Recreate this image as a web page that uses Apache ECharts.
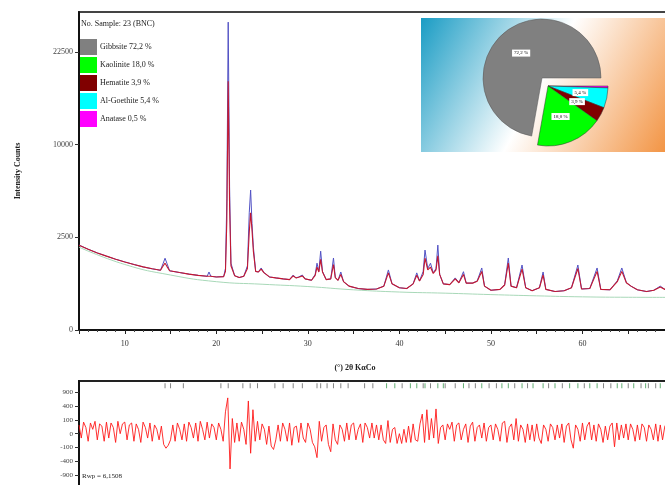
<!DOCTYPE html>
<html><head><meta charset="utf-8">
<script src="https://cdn.jsdelivr.net/npm/echarts@6/dist/echarts.min.js"></script>
<style>html,body{margin:0;padding:0;background:#fff}#c{width:665px;height:485px}</style>
</head><body><div id="c"></div>
<script>
// ---------- DATA ----------
const twoTheta = [5.0,6.0,7.0,8.0,9.0,10.0,11.0,12.0,13.0,13.9,14.2,14.4,14.6,14.9,16.0,17.0,18.0,19.0,19.2,19.4,20.0,20.8,21.0,21.15,21.3,21.45,21.6,22.0,22.5,23.0,23.4,23.6,23.75,23.9,24.05,24.3,24.6,24.9,25.2,25.8,26.5,27.3,28.0,28.4,28.7,29.0,29.4,29.7,30.4,30.8,31.0,31.2,31.4,31.6,32.0,32.5,32.8,33.0,33.3,33.6,33.9,34.5,35.5,36.5,37.5,38.3,38.8,39.2,40.0,40.8,41.5,41.9,42.2,42.6,42.8,43.1,43.4,43.7,44.0,44.2,44.4,44.8,45.5,46.1,46.5,47.0,47.3,48.0,48.5,49.0,49.3,50.0,51.0,51.5,51.9,52.2,52.8,53.4,53.8,54.5,55.3,55.7,56.0,57.0,58.0,58.8,59.5,59.9,60.8,61.6,62.0,63.0,63.8,64.3,64.8,65.3,66.0,67.0,67.8,68.5,69.0,70.0];
const observed = [2100,1900,1730,1590,1460,1350,1250,1160,1090,1040,1300,1500,1300,1020,960,910,870,840,980,840,820,830,1100,5000,27600,6000,1300,860,800,840,1200,4000,5700,3300,2000,1000,980,1120,960,820,790,760,740,880,790,820,880,760,720,900,1300,1000,1810,1000,740,760,1510,800,720,980,680,560,500,480,490,560,1050,620,520,500,620,950,700,1000,1860,1100,1300,950,1100,2100,900,620,600,790,650,990,640,640,700,1120,560,460,480,600,1510,560,520,1230,520,450,520,980,480,430,450,520,1230,490,500,1120,480,470,700,1120,650,560,470,430,460,560,480,470];
const calculated = [2090,1900,1730,1590,1460,1350,1250,1160,1090,1040,1200,1300,1180,1020,960,910,870,840,900,840,820,830,1000,3500,18000,4500,1200,860,800,840,1100,2800,4000,2900,1800,1000,980,1080,960,820,790,760,740,850,790,810,850,760,720,870,1150,980,1450,980,740,760,1250,800,720,900,680,560,500,480,490,560,950,620,520,500,620,870,700,900,1500,1050,1150,930,1050,1600,900,620,600,760,650,900,640,640,690,1000,560,460,480,590,1300,560,520,1080,520,450,520,880,480,430,450,520,1100,490,500,1000,480,470,680,1000,650,560,470,430,460,540,480,470];
const bgTheta = [5,10,15,20,25,30,35,40,45,50,55,60,65,70];
const background = [2000,1250,880,680,610,550,470,420,395,365,340,320,312,310];
// difference (obs - calc), sampled every 0.25° from 5°
const diffStart = 5, diffStep = 0.25;
const diffValues = [
  40,-10,70,20,-30,60,10,80,-20,50,30,-30,70,-10,60,20,-40,80,0,50,
  70,-20,40,60,-30,50,10,-40,70,20,-10,60,-30,40,10,-20,30,-60,-110,-70,
  -20,40,-30,60,10,-20,50,-30,70,20,-10,60,-30,80,10,-20,70,-10,50,20,
  -20,60,10,-30,250,670,-650,120,-40,60,-30,70,10,-60,560,-200,300,-30,80,-20,
  50,10,-60,30,-80,-130,-20,40,-30,60,10,-30,60,-70,20,30,-40,60,-10,-40,
  60,10,-40,-90,-300,80,-30,20,40,-60,-170,50,-20,-60,40,10,-30,60,-20,40,
  60,-20,10,50,-40,60,20,-10,60,-10,40,-20,40,-20,-50,90,-40,10,20,-50,
  0,-50,10,-40,30,-40,50,-20,-30,50,200,-40,300,-20,120,-10,320,-50,20,40,
  -20,50,10,70,-30,40,60,-20,10,50,-40,30,70,-30,20,40,-10,60,-30,20,
  40,-20,50,10,-30,60,80,-40,20,50,-20,120,-30,40,10,-40,50,-20,40,-30,
  50,-10,-50,40,10,-30,50,20,-20,40,-10,50,-40,30,60,-20,-110,40,10,-30,
  60,-20,30,70,-20,40,-30,50,10,-40,30,-20,30,60,-90,60,-20,40,-10,50,
  -20,50,10,-30,40,-20,50,20,-30,40,10,-20,50,-30,40,-20,30,60,-10,30,
  20];
const reflSet1 = [14.4,15.0,16.4,20.5,21.3,22.9,23.7,24.5,26.4,27.3,28.4,29.4,31.0,31.4,32.1,32.8,33.6,34.4,36.2,37.1,40.3,42.6,43.4,45.0,46.1,47.6,48.3,49.8,50.6,52.6,54.0,56.3,57.8,60.2,62.3,63.1,65.0,66.4,67.2,68.0,69.2];
const reflSet2 = [38.6,39.5,41.2,41.9,42.8,44.2,44.8,47.0,49.0,51.2,51.9,53.4,54.6,55.7,57.0,58.6,59.5,60.8,61.6,63.8,64.3,65.6,66.9,68.5,69.6];
const phases = ['Gibbsite','Kaolinite','Hematite','Al-Goethite','Anatase'];
const percents = [72.2, 18.0, 3.9, 5.4, 0.5];
const phaseColors = ['#808080','#00ff00','#800000','#00ffff','#ff00ff'];
const sampleLabel = 'No. Sample: 23 (BNC)';
const rwpLabel = 'Rwp = 6,1508';
const xName = '(°) 2θ KαCo';
const yName = 'Intensity Counts';

// ---------- BUILD ----------
const SERIF = 'Liberation Serif';
const sq = v => Math.sqrt(v);
const ssq = v => Math.sign(v) * Math.sqrt(Math.abs(v));
const fmtPct = p => p.toFixed(1).replace('.', ',') + ' %';

const obsData = twoTheta.map((t, i) => [t, sq(observed[i])]);
const calcData = twoTheta.map((t, i) => [t, sq(calculated[i])]);
const bgData = bgTheta.map((t, i) => [t, sq(background[i])]);
const diffData = diffValues.map((v, i) => [diffStart + i * diffStep, ssq(v)]);

const restOthers = percents.slice(1).reduce((a, b) => a + b, 0);
const pieMainData = [
  { name: '_rest', value: restOthers, itemStyle: { color: 'rgba(0,0,0,0)', borderWidth: 0 }, label: { show: false } },
  { name: phases[0], value: percents[0], itemStyle: { color: phaseColors[0] } }
];
const pieGroupData = [4, 3, 2, 1].map(i => ({
  name: phases[i], value: percents[i], itemStyle: { color: phaseColors[i] },
  label: { show: i !== 4 }
}));
pieGroupData.push({ name: '_gib', value: percents[0], itemStyle: { color: 'rgba(0,0,0,0)', borderWidth: 0 }, label: { show: false } });

const pieLabel = {
  show: true, position: 'inside', fontSize: 5, fontFamily: SERIF, color: '#000',
  backgroundColor: '#fff', padding: [1, 2],
  formatter: p => fmtPct(p.value)
};

const chart = echarts.init(document.getElementById('c'), null, { renderer: 'canvas' });
chart.setOption({
  animation: false,
  backgroundColor: '#fff',
  textStyle: { fontFamily: SERIF },
  grid: [
    { left: 79, top: 12, width: 595, height: 318, outerBoundsMode: 'none', containLabel: false,
      show: true, borderColor: '#444', borderWidth: 2, backgroundColor: 'rgba(0,0,0,0)' },
    { left: 79, top: 381, width: 595, height: 108, outerBoundsMode: 'none', containLabel: false,
      show: true, borderColor: '#222', borderWidth: 2, backgroundColor: 'rgba(0,0,0,0)' }
  ],
  xAxis: [
    { gridIndex: 0, type: 'value', min: 5, max: 70, interval: 5,
      axisLine: { show: true, lineStyle: { color: '#111', width: 2 } },
      axisTick: { show: true, length: 4, lineStyle: { color: '#222' } },
      minorTick: { show: true, splitNumber: 5, length: 2, lineStyle: { color: '#444' } },
      splitLine: { show: false },
      axisLabel: { fontSize: 8, fontFamily: SERIF, color: '#333', margin: 10,
        formatter: v => (v % 10 === 0 ? String(v) : '') } },
    { gridIndex: 1, type: 'value', min: 5, max: 70, interval: 5, show: false }
  ],
  yAxis: [
    { gridIndex: 0, type: 'value', min: 0, max: 171.6, interval: 50,
      name: yName, nameLocation: 'middle', nameGap: 57, nameRotate: 90,
      nameTextStyle: { fontSize: 8, fontWeight: 'bold', fontFamily: SERIF, color: '#222' },
      axisLine: { show: true, lineStyle: { color: '#111', width: 2 } },
      axisTick: { show: true, length: 4, lineStyle: { color: '#333' } },
      splitLine: { show: false },
      axisLabel: { fontSize: 8, fontFamily: SERIF, color: '#444', margin: 6, showMaxLabel: false,
        formatter: v => String(Math.round(v * v)) } },
    { gridIndex: 1, type: 'value', min: -40, max: 38.1, interval: 10,
      axisLine: { show: true, lineStyle: { color: '#111', width: 2 } },
      axisTick: { show: true, length: 4, lineStyle: { color: '#333' } },
      splitLine: { show: false },
      axisLabel: { fontSize: 7, fontFamily: SERIF, color: '#444', margin: 6, showMaxLabel: false,
        formatter: v => String(Math.round(Math.sign(v) * v * v)) } }
  ],
  legend: {
    data: phases, orient: 'vertical', left: 80, top: 39,
    icon: 'rect', itemWidth: 17, itemHeight: 16, itemGap: 2, padding: 0,
    itemStyle: { borderWidth: 0 },
    textStyle: { fontSize: 8, fontFamily: SERIF, color: '#222', padding: [0, 0, 0, -2] },
    formatter: name => name + ' ' + fmtPct(percents[phases.indexOf(name)]),
    selectedMode: false
  },
  graphic: [
    { type: 'rect', z: 1, silent: true,
      shape: { x: 421, y: 18, width: 250, height: 134 },
      style: { fill: new echarts.graphic.LinearGradient(0, 0, 1, 1, [
        { offset: 0, color: '#1a9cc4' }, { offset: 0.48, color: '#ffffff' }, { offset: 1, color: '#f2913e' }]) } },
    { type: 'text', z: 10, left: 81, top: 20,
      style: { text: sampleLabel, fontSize: 8, fontFamily: SERIF, fill: '#222' } },
    { type: 'text', z: 10, left: 82, top: 473,
      style: { text: rwpLabel, fontSize: 7, fontFamily: SERIF, fill: '#222' } },
    { type: 'text', z: 10, x: 355, y: 368,
      style: { text: xName, fontSize: 8, fontWeight: 'bold', fontFamily: SERIF, fill: '#222', align: 'center', verticalAlign: 'middle' } }
  ],
  series: [
    { type: 'line', name: 'Background', xAxisIndex: 0, yAxisIndex: 0, data: bgData, smooth: true,
      showSymbol: false, z: 2, lineStyle: { color: '#a8d8b8', width: 1 }, silent: true },
    { type: 'line', name: 'Observed', xAxisIndex: 0, yAxisIndex: 0, data: obsData,
      showSymbol: false, z: 3, lineStyle: { color: '#5252c4', width: 1 }, silent: true },
    { type: 'line', name: 'Calculated', xAxisIndex: 0, yAxisIndex: 0, data: calcData,
      showSymbol: false, z: 4, lineStyle: { color: '#c41830', width: 1.1 }, silent: true },
    { type: 'line', name: 'Difference', xAxisIndex: 1, yAxisIndex: 1, data: diffData,
      showSymbol: false, z: 3, lineStyle: { color: '#ff1a1a', width: 0.9 }, silent: true },
    { type: 'scatter', name: 'Refl1', xAxisIndex: 1, yAxisIndex: 1, data: reflSet1.map(t => [t, 34.6]),
      symbol: 'rect', symbolSize: [1, 5], itemStyle: { color: '#666' }, silent: true },
    { type: 'scatter', name: 'Refl2', xAxisIndex: 1, yAxisIndex: 1, data: reflSet2.map(t => [t, 34.6]),
      symbol: 'rect', symbolSize: [1, 5], itemStyle: { color: '#3c9a50' }, silent: true },
    { type: 'pie', name: 'pieMain', center: [542, 78], radius: 59, startAngle: 0, clockwise: true,
      z: 5, data: pieMainData, label: pieLabel, labelLine: { show: false }, silent: true,
      itemStyle: { borderColor: '#555', borderWidth: 0.5 }, emphasis: { disabled: true } },
    { type: 'pie', name: 'pieGroup', center: [548, 86], radius: 60, startAngle: 0, clockwise: true,
      z: 5, data: pieGroupData, label: pieLabel, labelLine: { show: false }, silent: true,
      itemStyle: { borderColor: '#333', borderWidth: 0.5 }, emphasis: { disabled: true } }
  ]
});
</script>
</body></html>
